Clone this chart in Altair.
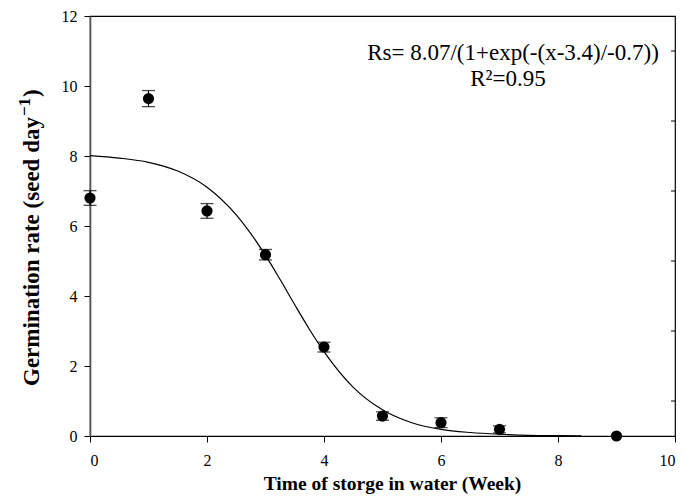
import altair as alt
import pandas as pd

# Observed means and standard errors
weeks = [0, 1, 2, 3, 4, 5, 6, 7, 9]
rate = [6.80, 9.64, 6.43, 5.18, 2.54, 0.57, 0.38, 0.19, 0.0]
err = [0.21, 0.23, 0.21, 0.15, 0.14, 0.12, 0.14, 0.10, 0.0]

# Fitted curve
curve_x = [0, 0.5, 1, 1.5, 2, 2.5, 3, 3.25, 3.5, 3.75, 4, 4.5, 5, 5.5, 6, 6.5, 7, 7.5, 8, 8.4]
curve_y = [8.01, 7.94, 7.82, 7.57, 7.11, 6.32, 5.16, 4.47, 3.75, 3.05, 2.41, 1.39, 0.75,
           0.38, 0.19, 0.10, 0.05, 0.02, 0.01, 0.006]

x_ticks = [0, 2, 4, 6, 8, 10]
y_ticks = [0, 2, 4, 6, 8, 10, 12]
right_ticks = [1, 3, 5, 7, 9, 11]

eq_line1 = "Rs= 8.07/(1+exp(-(x-3.4)/-0.7))"
eq_line2 = "R²=0.95"
ytitle_main = "Germination rate (seed day"
ytitle_sup = "\u22121"
ytitle_end = ")"

obs = pd.DataFrame({"week": weeks, "rate": rate, "err": err})
obs["lo"] = obs["rate"] - obs["err"]
obs["hi"] = obs["rate"] + obs["err"]
bars = obs[obs["err"] > 0]
curve = pd.DataFrame({"week": curve_x, "rate": curve_y})
rt = pd.DataFrame({"v": right_ticks})

FONT = "Liberation Serif"
xs = alt.Scale(domain=[0, 10], nice=False)
ys = alt.Scale(domain=[0, 12], nice=False)

xax = alt.Axis(values=x_ticks, title="Time of storge in water (Week)", grid=False,
               tickSize=6, tickColor="black", domainColor="black", domainWidth=1.2,
               labelFont=FONT, labelFontSize=16, labelColor="black", labelPadding=10,
               titleFont=FONT, titleFontSize=19.5, titleFontWeight="bold", titleColor="black",
               titlePadding=6, titleX=302, format="d")
yax = alt.Axis(values=y_ticks, title="", grid=False,
               tickSize=6, tickColor="black", domainColor="#555555", domainWidth=1.6,
               labelFont=FONT, labelFontSize=16, labelColor="black", labelPadding=7,
               format="d")

line = alt.Chart(curve).mark_line(color="black", strokeWidth=1.2, interpolate="monotone").encode(
    x=alt.X("week:Q", scale=xs, axis=xax),
    y=alt.Y("rate:Q", scale=ys, axis=yax),
)

vbars = alt.Chart(bars).mark_rule(color="black", strokeWidth=1.2).encode(
    x=alt.X("week:Q", scale=xs),
    y=alt.Y("lo:Q", scale=ys),
    y2="hi:Q",
)
caps_lo = alt.Chart(bars).mark_tick(color="black", size=13, thickness=1.3, orient="horizontal").encode(
    x=alt.X("week:Q", scale=xs), y=alt.Y("lo:Q", scale=ys))
caps_hi = alt.Chart(bars).mark_tick(color="black", size=13, thickness=1.3, orient="horizontal").encode(
    x=alt.X("week:Q", scale=xs), y=alt.Y("hi:Q", scale=ys))

pts = alt.Chart(obs).mark_circle(color="black", opacity=1, size=125).encode(
    x=alt.X("week:Q", scale=xs),
    y=alt.Y("rate:Q", scale=ys),
)

rticks = alt.Chart(rt).mark_rule(color="black", strokeWidth=1).encode(
    x=alt.value(581), x2=alt.value(585),
    y=alt.Y("v:Q", scale=ys),
)


def label(txt, x, y, size, weight="normal", angle=0, align="center"):
    return alt.Chart(pd.DataFrame({"t": [txt]})).mark_text(
        font=FONT, fontSize=size, fontWeight=weight, color="black", align=align,
        baseline="alphabetic", angle=angle).encode(
        x=alt.value(x), y=alt.value(y), text="t:N")


t1 = label(eq_line1, 423, 44, 23)
t2 = label(eq_line2, 418, 70, 23)
yt1 = label(ytitle_main, -51, 370, 23, "bold", 270, "left")
yt2 = label(ytitle_sup, -60, 100, 17, "bold", 270, "left")
yt3 = label(ytitle_end, -51, 81, 23, "bold", 270, "left")

chart = alt.layer(line, vbars, caps_lo, caps_hi, pts, rticks, t1, t2, yt1, yt2, yt3).properties(
    width=585, height=420,
    autosize=alt.AutoSizeParams(type="none"),
    padding={"left": 82, "top": 8, "right": 9, "bottom": 62},
).configure_view(stroke="black", strokeWidth=1.2)

chart.save("out.html", embed_options={"renderer": "svg", "actions": False})
